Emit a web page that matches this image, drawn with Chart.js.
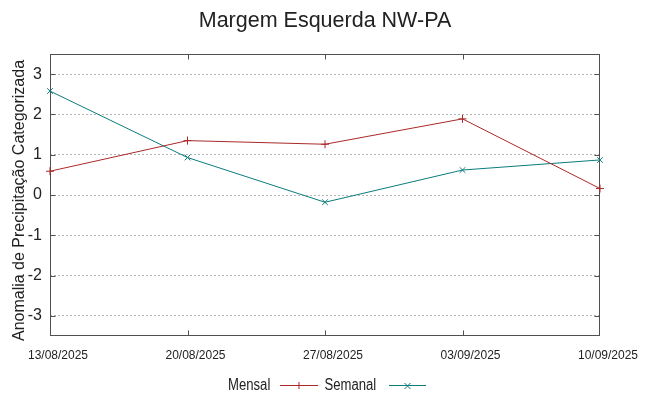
<!DOCTYPE html>
<html>
<head>
<meta charset="utf-8">
<script src="https://cdn.jsdelivr.net/npm/chart.js@4"></script>
<style>
html,body{margin:0;padding:0;background:#fff;}
#wrap{width:649px;height:396px;position:relative;}
</style>
</head>
<body>
<div id="wrap"><canvas id="c" width="649" height="396"></canvas></div>
<script>
const categories = ['13/08/2025','20/08/2025','27/08/2025','03/09/2025','10/09/2025'];
const mensal = [0.59, 1.35, 1.26, 1.89, 0.16];
const semanal = [2.58, 0.93, -0.18, 0.62, 0.87];
const yTicks = [-3, -2, -1, 0, 1, 2, 3];
const titleText = 'Margem Esquerda NW-PA';
const yTitleText = 'Anomalia de Precipitação Categorizada';
const seriesNames = ['Mensal', 'Semanal'];

const RED = '#ab2828';
const TEAL = '#0b7b7b';
const TXT = '#222';

function hasFont(name){
  const c = document.createElement('canvas').getContext('2d');
  const s = '13/08/2025 Mensal Semanal';
  c.font = '20px monospace'; const a = c.measureText(s).width;
  c.font = '20px "' + name + '", monospace'; const b = c.measureText(s).width;
  return Math.abs(a - b) > 0.5;
}
const NARROW = hasFont('Liberation Sans Narrow');
const NFAM = NARROW ? '"Liberation Sans Narrow", "Liberation Sans", sans-serif' : '"Liberation Sans", Arial, sans-serif';
const RFAM = '"Liberation Sans", Arial, sans-serif';

function narrowText(ctx, t, x, y, size){
  ctx.save();
  ctx.font = size + 'px ' + NFAM;
  ctx.translate(x, y);
  if (!NARROW) ctx.scale(0.82, 1);
  ctx.fillText(t, 0, 0);
  ctx.restore();
}

const deco = {
  id: 'deco',
  beforeDatasetsDraw(chart){
    const {ctx, chartArea: a, scales: {x, y}} = chart;
    ctx.save();
    ctx.strokeStyle = '#505050';
    ctx.lineWidth = 1;
    ctx.setLineDash([]);
    const L = Math.round(a.left) + 0.5, R = Math.round(a.right) - 0.5;
    const T = Math.round(a.top) + 0.5, B = Math.round(a.bottom) - 0.5;
    ctx.strokeRect(L, T, R - L, B - T);
    ctx.beginPath();
    for (let i = 1; i < categories.length - 1; i++){
      const px = Math.round(x.getPixelForValue(i)) + 0.5;
      ctx.moveTo(px, T); ctx.lineTo(px, T + 5);
      ctx.moveTo(px, B); ctx.lineTo(px, B - 5);
    }
    yTicks.forEach(v => {
      const py = Math.round(y.getPixelForValue(v)) + 0.5;
      ctx.moveTo(R, py); ctx.lineTo(R - 5, py);
      ctx.moveTo(L, py); ctx.lineTo(L + 5, py);
    });
    ctx.stroke();
    ctx.restore();
  },
  afterDraw(chart){
    const {ctx} = chart;
    ctx.save();
    ctx.fillStyle = TXT;
    ctx.font = '21.5px ' + RFAM;
    ctx.textAlign = 'center';
    ctx.textBaseline = 'alphabetic';
    ctx.fillText(titleText, 325, 27);
    ctx.save();
    ctx.translate(24, 200.5);
    ctx.rotate(-Math.PI / 2);
    ctx.font = '16px ' + RFAM;
    ctx.textAlign = 'center';
    ctx.textBaseline = 'alphabetic';
    ctx.fillText(yTitleText, 0, 0);
    ctx.restore();
    ctx.textAlign = 'left';
    ctx.textBaseline = 'alphabetic';
    narrowText(ctx, seriesNames[0], 228, 390, 16);
    narrowText(ctx, seriesNames[1], 324.5, 390, 16);
    ctx.lineWidth = 1;
    ctx.strokeStyle = RED;
    ctx.beginPath();
    ctx.moveTo(280, 385.5); ctx.lineTo(318, 385.5);
    ctx.moveTo(299, 382); ctx.lineTo(299, 389);
    ctx.stroke();
    ctx.strokeStyle = TEAL;
    ctx.beginPath();
    ctx.moveTo(389, 385.5); ctx.lineTo(426, 385.5);
    ctx.moveTo(404.5, 383); ctx.lineTo(410.5, 389);
    ctx.moveTo(410.5, 383); ctx.lineTo(404.5, 389);
    ctx.stroke();
    ctx.restore();
  }
};

new Chart(document.getElementById('c'), {
  type: 'line',
  data: {
    labels: categories,
    datasets: [
      {label: seriesNames[0], data: mensal, borderColor: RED, backgroundColor: RED,
       borderWidth: 1, pointStyle: 'cross', pointRadius: 4, pointBorderWidth: 1,
       pointBorderColor: RED, tension: 0, fill: false},
      {label: seriesNames[1], data: semanal, borderColor: TEAL, backgroundColor: TEAL,
       borderWidth: 1, pointStyle: 'crossRot', pointRadius: 4, pointBorderWidth: 1,
       pointBorderColor: TEAL, tension: 0, fill: false}
    ]
  },
  options: {
    responsive: false,
    animation: false,
    devicePixelRatio: 1,
    layout: {padding: {top: 54, right: 49, bottom: 0, left: 0}},
    plugins: {legend: {display: false}, title: {display: false}, tooltip: {enabled: false}},
    scales: {
      x: {
        type: 'category',
        offset: false,
        grid: {display: false, drawTicks: false},
        border: {display: false},
        ticks: {
          font: {family: NFAM, size: NARROW ? 14 : 12},
          color: TXT, padding: 12, labelOffset: 8, maxRotation: 0, autoSkip: false
        },
        afterFit(s){ s.height = 60; s.paddingLeft = 0; s.paddingRight = 0; }
      },
      y: {
        min: -3.5, max: 3.5,
        afterBuildTicks(s){ s.ticks = yTicks.map(v => ({value: v})); },
        afterFit(s){ s.width = 50; s.paddingTop = 0; s.paddingBottom = 0; },
        grid: {color: '#b4b4b4', drawTicks: false, lineWidth: 1},
        border: {display: false, dash: [2, 2]},
        ticks: {font: {family: RFAM, size: 16}, color: TXT, padding: 8}
      }
    }
  },
  plugins: [deco]
});
</script>
</body>
</html>
